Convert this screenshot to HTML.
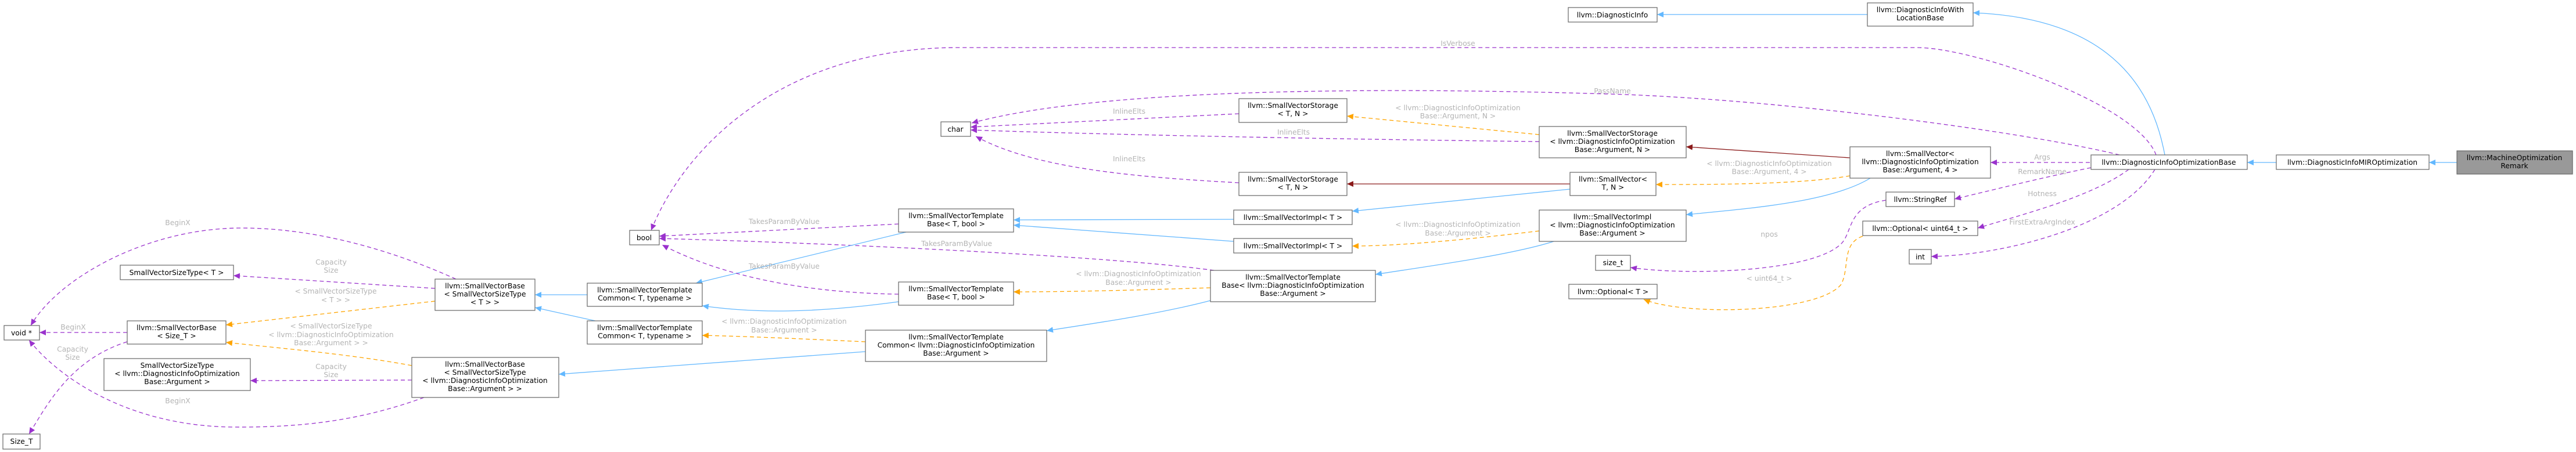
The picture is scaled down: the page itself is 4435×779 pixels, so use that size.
<!DOCTYPE html>
<html><head><meta charset="utf-8"><style>
html,body{margin:0;padding:0;background:#fff;}
svg{display:block;}
.b rect{fill:#fff;stroke:#666;stroke-width:1.2;}
.b text{font-family:"DejaVu Sans","Liberation Sans",sans-serif;font-size:12.3px;fill:#000;text-anchor:middle;}
.l{font-family:"DejaVu Sans","Liberation Sans",sans-serif;font-size:12.3px;fill:#b4b4b4;text-anchor:middle;}
.bl{fill:none;stroke:#63b8ff;stroke-width:1.3;}
.pu{fill:none;stroke:#9a32cd;stroke-width:1.3;stroke-dasharray:7,5;}
.or{fill:none;stroke:#ffa500;stroke-width:1.3;stroke-dasharray:7,5;}
.dr{fill:none;stroke:#8b1a1a;stroke-width:1.3;}
</style></head><body>
<svg width="4435" height="779" viewBox="0 0 4435 779" xmlns="http://www.w3.org/2000/svg">
<defs>
<marker id="mb" markerUnits="userSpaceOnUse" markerWidth="12" markerHeight="10" refX="11" refY="5" orient="auto"><path d="M0,0 L11,5 L0,10 z" fill="#63b8ff"/></marker>
<marker id="mp" markerUnits="userSpaceOnUse" markerWidth="12" markerHeight="10" refX="11" refY="5" orient="auto"><path d="M0,0 L11,5 L0,10 z" fill="#9a32cd"/></marker>
<marker id="mo" markerUnits="userSpaceOnUse" markerWidth="12" markerHeight="10" refX="11" refY="5" orient="auto"><path d="M0,0 L11,5 L0,10 z" fill="#ffa500"/></marker>
<marker id="md" markerUnits="userSpaceOnUse" markerWidth="12" markerHeight="10" refX="11" refY="5" orient="auto"><path d="M0,0 L11,5 L0,10 z" fill="#8b1a1a"/></marker>
</defs>

<!-- edges -->
<path class="bl" d="M4230,280 L4182,280" marker-end="url(#mb)"/>
<path class="bl" d="M3919,280 L3869,280" marker-end="url(#mb)"/>
<path class="bl" d="M3727,267 C3700,120 3600,30 3397,22" marker-end="url(#mb)"/>
<path class="bl" d="M3215,25 L2853,25" marker-end="url(#mb)"/>
<path class="pu" d="M3712,267 C3680,180 3400,82 3300,82 L1650,82 C1350,82 1180,250 1121,397" marker-end="url(#mp)"/>
<path class="pu" d="M3649,267 C3500,230 3100,175 2800,163 C2400,150 1900,150 1673,212" marker-end="url(#mp)"/>
<path class="pu" d="M3598,280 L3427,280" marker-end="url(#mp)"/>
<path class="pu" d="M3600,289 C3520,305 3420,330 3365,343" marker-end="url(#mp)"/>
<path class="pu" d="M3665,292 C3600,340 3480,370 3405,393" marker-end="url(#mp)"/>
<path class="pu" d="M3710,292 C3650,390 3450,440 3325,442" marker-end="url(#mp)"/>
<path class="dr" d="M3185,272 L2903,253" marker-end="url(#md)"/>
<path class="or" d="M3185,303 C3100,318 2950,318 2851,318" marker-end="url(#mo)"/>
<path class="bl" d="M3220,307 C3150,350 3000,360 2903,370" marker-end="url(#mb)"/>
<path class="or" d="M2650,232 L2319,200" marker-end="url(#mo)"/>
<path class="pu" d="M2650,244 C2300,240 1900,232 1671,224" marker-end="url(#mp)"/>
<path class="pu" d="M2133,196 L1671,219" marker-end="url(#mp)"/>
<path class="pu" d="M2133,315 C1950,305 1780,290 1680,235" marker-end="url(#mp)"/>
<path class="dr" d="M2703,317 L2319,317" marker-end="url(#md)"/>
<path class="bl" d="M2703,326 L2328,364" marker-end="url(#mb)"/>
<path class="or" d="M2650,398 C2550,410 2420,424 2328,424" marker-end="url(#mo)"/>
<path class="bl" d="M2675,416 C2600,440 2450,460 2368,473" marker-end="url(#mb)"/>
<path class="bl" d="M2124,378 L1745,379" marker-end="url(#mb)"/>
<path class="bl" d="M2124,416 L1745,388" marker-end="url(#mb)"/>
<path class="pu" d="M2090,466 C1900,440 1400,418 1135,411" marker-end="url(#mp)"/>
<path class="or" d="M2084,496 C1950,500 1850,503 1745,503" marker-end="url(#mo)"/>
<path class="bl" d="M2084,518 C2000,540 1900,555 1802,570" marker-end="url(#mb)"/>
<path class="pu" d="M1547,386 L1135,407" marker-end="url(#mp)"/>
<path class="bl" d="M1560,400 L1198,488" marker-end="url(#mb)"/>
<path class="pu" d="M1547,507 C1400,505 1250,480 1140,422" marker-end="url(#mp)"/>
<path class="bl" d="M1547,520 C1400,540 1300,540 1209,527" marker-end="url(#mb)"/>
<path class="or" d="M1490,589 C1400,585 1300,580 1209,578" marker-end="url(#mo)"/>
<path class="bl" d="M1490,606 L962,645" marker-end="url(#mb)"/>
<path class="bl" d="M1011,508 L921,508" marker-end="url(#mb)"/>
<path class="bl" d="M1025,553 L921,530" marker-end="url(#mb)"/>
<path class="pu" d="M785,481 C650,420 520,392 410,393 C250,395 100,480 53,561" marker-end="url(#mp)"/>
<path class="pu" d="M749,497 L402,475" marker-end="url(#mp)"/>
<path class="or" d="M749,519 L389,560" marker-end="url(#mo)"/>
<path class="or" d="M709,630 C600,610 480,600 389,590" marker-end="url(#mo)"/>
<path class="pu" d="M709,655 L431,656" marker-end="url(#mp)"/>
<path class="pu" d="M730,685 C620,725 520,737 400,736 C220,734 100,650 50,586" marker-end="url(#mp)"/>
<path class="pu" d="M219,573 L68,573" marker-end="url(#mp)"/>
<path class="pu" d="M219,589 C120,620 80,700 50,748" marker-end="url(#mp)"/>
<path class="pu" d="M3247,345 C3180,355 3190,400 3170,420 C3120,470 2900,475 2807,461" marker-end="url(#mp)"/>
<path class="or" d="M3207,407 C3170,420 3185,460 3170,490 C3130,540 2900,545 2830,516" marker-end="url(#mo)"/>

<!-- edge labels -->
<text class="l" x="2510" y="79">IsVerbose</text>
<text class="l" x="2776" y="161">PassName</text>
<text class="l" x="3516" y="275">Args</text>
<text class="l" x="3516" y="300">RemarkName</text>
<text class="l" x="3516" y="338">Hotness</text>
<text class="l" x="3516" y="387">FirstExtraArgIndex</text>
<text class="l" x="3046" y="286">&lt; llvm::DiagnosticInfoOptimization</text>
<text class="l" x="3046" y="300">Base::Argument, 4 &gt;</text>
<text class="l" x="2510" y="190">&lt; llvm::DiagnosticInfoOptimization</text>
<text class="l" x="2510" y="204">Base::Argument, N &gt;</text>
<text class="l" x="2227" y="232">InlineElts</text>
<text class="l" x="1944" y="196">InlineElts</text>
<text class="l" x="1944" y="278">InlineElts</text>
<text class="l" x="2510" y="391">&lt; llvm::DiagnosticInfoOptimization</text>
<text class="l" x="2510" y="406">Base::Argument &gt;</text>
<text class="l" x="1647" y="424">TakesParamByValue</text>
<text class="l" x="1960" y="476">&lt; llvm::DiagnosticInfoOptimization</text>
<text class="l" x="1960" y="491">Base::Argument &gt;</text>
<text class="l" x="1350" y="386">TakesParamByValue</text>
<text class="l" x="1350" y="463">TakesParamByValue</text>
<text class="l" x="1350" y="558">&lt; llvm::DiagnosticInfoOptimization</text>
<text class="l" x="1350" y="573">Base::Argument &gt;</text>
<text class="l" x="306" y="388">BeginX</text>
<text class="l" x="570" y="456">Capacity</text>
<text class="l" x="570" y="470">Size</text>
<text class="l" x="578" y="506">&lt; SmallVectorSizeType</text>
<text class="l" x="578" y="521">&lt; T &gt; &gt;</text>
<text class="l" x="570" y="566">&lt; SmallVectorSizeType</text>
<text class="l" x="570" y="581">&lt; llvm::DiagnosticInfoOptimization</text>
<text class="l" x="570" y="595">Base::Argument &gt; &gt;</text>
<text class="l" x="570" y="636">Capacity</text>
<text class="l" x="570" y="650">Size</text>
<text class="l" x="306" y="695">BeginX</text>
<text class="l" x="126" y="568">BeginX</text>
<text class="l" x="125" y="606">Capacity</text>
<text class="l" x="125" y="620">Size</text>
<text class="l" x="3046" y="408">npos</text>
<text class="l" x="3046" y="484">&lt; uint64_t &gt;</text>

<!-- nodes -->
<g class="b">
<rect x="4230" y="260" width="199" height="40" style="fill:#999"/><text x="4329" y="276">llvm::MachineOptimization</text><text x="4329" y="290">Remark</text>
<rect x="3919" y="267" width="263" height="25"/><text x="4050" y="284">llvm::DiagnosticInfoMIROptimization</text>
<rect x="3600" y="267" width="269" height="25"/><text x="3734" y="284">llvm::DiagnosticInfoOptimizationBase</text>
<rect x="3215" y="5" width="182" height="40"/><text x="3306" y="21">llvm::DiagnosticInfoWith</text><text x="3306" y="35">LocationBase</text>
<rect x="2700" y="13" width="153" height="25"/><text x="2776" y="30">llvm::DiagnosticInfo</text>
<rect x="3185" y="253" width="242" height="54"/><text x="3306" y="269">llvm::SmallVector&lt;</text><text x="3306" y="283">llvm::DiagnosticInfoOptimization</text><text x="3306" y="297">Base::Argument, 4 &gt;</text>
<rect x="3247" y="331" width="118" height="25"/><text x="3306" y="348">llvm::StringRef</text>
<rect x="3207" y="381" width="198" height="25"/><text x="3306" y="398">llvm::Optional&lt; uint64_t &gt;</text>
<rect x="3287" y="430" width="38" height="25"/><text x="3306" y="447">int</text>
<rect x="2650" y="218" width="253" height="54"/><text x="2776" y="234">llvm::SmallVectorStorage</text><text x="2776" y="248">&lt; llvm::DiagnosticInfoOptimization</text><text x="2776" y="262">Base::Argument, N &gt;</text>
<rect x="2703" y="297" width="148" height="40"/><text x="2777" y="313">llvm::SmallVector&lt;</text><text x="2777" y="327">T, N &gt;</text>
<rect x="2650" y="362" width="253" height="54"/><text x="2776" y="378">llvm::SmallVectorImpl</text><text x="2776" y="392">&lt; llvm::DiagnosticInfoOptimization</text><text x="2776" y="406">Base::Argument &gt;</text>
<rect x="2747" y="440" width="60" height="26"/><text x="2777" y="457">size_t</text>
<rect x="2701" y="490" width="152" height="25"/><text x="2777" y="507">llvm::Optional&lt; T &gt;</text>
<rect x="2133" y="170" width="186" height="41"/><text x="2226" y="186">llvm::SmallVectorStorage</text><text x="2226" y="200">&lt; T, N &gt;</text>
<rect x="2133" y="297" width="186" height="40"/><text x="2226" y="313">llvm::SmallVectorStorage</text><text x="2226" y="327">&lt; T, N &gt;</text>
<rect x="1620" y="210" width="51" height="25"/><text x="1645" y="227">char</text>
<rect x="2124" y="362" width="204" height="25"/><text x="2226" y="379">llvm::SmallVectorImpl&lt; T &gt;</text>
<rect x="2124" y="411" width="204" height="25"/><text x="2226" y="428">llvm::SmallVectorImpl&lt; T &gt;</text>
<rect x="2084" y="466" width="284" height="54"/><text x="2226" y="482">llvm::SmallVectorTemplate</text><text x="2226" y="496">Base&lt; llvm::DiagnosticInfoOptimization</text><text x="2226" y="510">Base::Argument &gt;</text>
<rect x="1084" y="397" width="51" height="25"/><text x="1109" y="414">bool</text>
<rect x="1547" y="360" width="198" height="40"/><text x="1646" y="376">llvm::SmallVectorTemplate</text><text x="1646" y="390">Base&lt; T, bool &gt;</text>
<rect x="1547" y="486" width="198" height="40"/><text x="1646" y="502">llvm::SmallVectorTemplate</text><text x="1646" y="516">Base&lt; T, bool &gt;</text>
<rect x="1490" y="569" width="312" height="54"/><text x="1646" y="585">llvm::SmallVectorTemplate</text><text x="1646" y="599">Common&lt; llvm::DiagnosticInfoOptimization</text><text x="1646" y="613">Base::Argument &gt;</text>
<rect x="1011" y="488" width="198" height="40"/><text x="1110" y="504">llvm::SmallVectorTemplate</text><text x="1110" y="518">Common&lt; T, typename &gt;</text>
<rect x="1011" y="553" width="198" height="40"/><text x="1110" y="569">llvm::SmallVectorTemplate</text><text x="1110" y="583">Common&lt; T, typename &gt;</text>
<rect x="749" y="481" width="172" height="54"/><text x="835" y="497">llvm::SmallVectorBase</text><text x="835" y="511">&lt; SmallVectorSizeType</text><text x="835" y="525">&lt; T &gt; &gt;</text>
<rect x="709" y="616" width="253" height="69"/><text x="835" y="632">llvm::SmallVectorBase</text><text x="835" y="646">&lt; SmallVectorSizeType</text><text x="835" y="660">&lt; llvm::DiagnosticInfoOptimization</text><text x="835" y="674">Base::Argument &gt; &gt;</text>
<rect x="207" y="457" width="195" height="25"/><text x="304" y="474">SmallVectorSizeType&lt; T &gt;</text>
<rect x="219" y="553" width="170" height="40"/><text x="304" y="569">llvm::SmallVectorBase</text><text x="304" y="583">&lt; Size_T &gt;</text>
<rect x="179" y="618" width="252" height="55"/><text x="305" y="634">SmallVectorSizeType</text><text x="305" y="648">&lt; llvm::DiagnosticInfoOptimization</text><text x="305" y="662">Base::Argument &gt;</text>
<rect x="7" y="561" width="61" height="25"/><text x="37" y="578">void *</text>
<rect x="5" y="748" width="64" height="26"/><text x="37" y="765">Size_T</text>
</g>
</svg>
</body></html>
